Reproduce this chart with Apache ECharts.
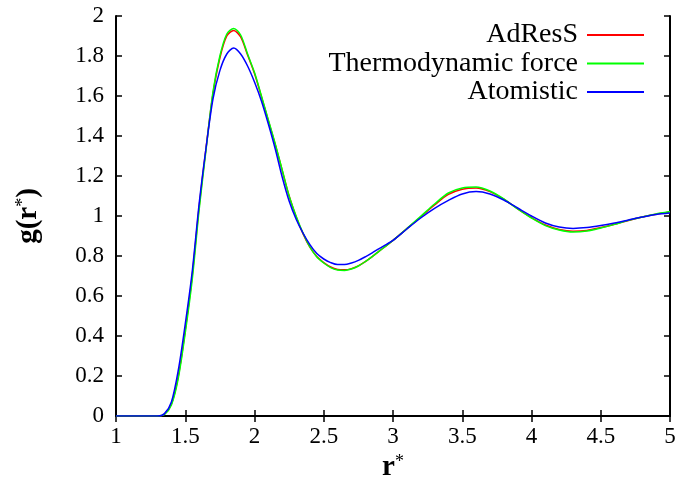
<!DOCTYPE html>
<html>
<head>
<meta charset="utf-8">
<script src="https://cdn.jsdelivr.net/npm/echarts@6/dist/echarts.min.js"></script>
<style>
  html, body { margin: 0; padding: 0; background: #fff; }
  #chart { width: 680px; height: 482px; }
</style>
</head>
<body>
<div id="chart"></div>
<script>
// r* sample points
var rValues = [1.0, 1.25, 1.3, 1.35, 1.4, 1.45, 1.5, 1.55, 1.6, 1.65, 1.7, 1.75, 1.8, 1.85, 1.9, 1.95,
  2.0, 2.05, 2.1, 2.15, 2.2, 2.25, 2.3, 2.35, 2.4, 2.45, 2.5, 2.55, 2.6, 2.65, 2.7, 2.75, 2.8, 2.85, 2.9, 2.95,
  3.0, 3.1, 3.2, 3.3, 3.4, 3.5, 3.6, 3.7, 3.8, 3.9, 4.0, 4.1, 4.2, 4.3, 4.4, 4.5, 4.6, 4.7, 4.8, 4.9, 5.0];

var adress = [0, 0, 0, 0.009, 0.06, 0.2, 0.43, 0.7, 1.045, 1.34, 1.61, 1.79, 1.9, 1.927, 1.895, 1.805,
  1.712, 1.597, 1.477, 1.357, 1.228, 1.1, 0.998, 0.912, 0.844, 0.797, 0.767, 0.745, 0.733, 0.731, 0.737, 0.751, 0.772, 0.797, 0.824, 0.851,
  0.878, 0.937, 0.995, 1.055, 1.108, 1.134, 1.14, 1.122, 1.084, 1.036, 0.992, 0.955, 0.933, 0.924, 0.928, 0.942, 0.959, 0.978, 0.995, 1.009, 1.02];

var thermo = [0, 0, 0, 0.008, 0.055, 0.19, 0.415, 0.68, 1.03, 1.33, 1.62, 1.8, 1.91, 1.938, 1.905, 1.81,
  1.717, 1.6, 1.48, 1.36, 1.23, 1.1, 1.0, 0.915, 0.845, 0.795, 0.765, 0.742, 0.73, 0.728, 0.735, 0.75, 0.772, 0.797, 0.824, 0.851,
  0.878, 0.937, 0.998, 1.06, 1.115, 1.14, 1.145, 1.125, 1.085, 1.035, 0.99, 0.952, 0.93, 0.92, 0.925, 0.94, 0.958, 0.978, 0.995, 1.01, 1.022];

var atomistic = [0, 0, 0, 0.012, 0.07, 0.23, 0.46, 0.72, 1.06, 1.34, 1.585, 1.727, 1.81, 1.84, 1.81, 1.75,
  1.67, 1.575, 1.46, 1.335, 1.195, 1.075, 0.985, 0.915, 0.857, 0.812, 0.785, 0.767, 0.757, 0.757, 0.765, 0.778, 0.796, 0.816, 0.837, 0.857,
  0.878, 0.935, 0.99, 1.038, 1.078, 1.11, 1.122, 1.11, 1.08, 1.04, 1.0, 0.965, 0.945, 0.938, 0.942, 0.952, 0.965, 0.98, 0.995, 1.008, 1.015];

var seriesNames = ['AdResS', 'Thermodynamic force', 'Atomistic'];
var seriesColors = ['#ff0000', '#00ff00', '#0000ff'];

function pairs(vals) {
  return rValues.map(function (r, i) { return [r, vals[i]]; });
}

var font = 'Liberation Serif';
var chart = echarts.init(document.getElementById('chart'));

var baseAxis = {
  axisLine: { show: true, lineStyle: { color: '#000', width: 2 } },
  axisTick: { show: true, inside: true, length: 6, lineStyle: { color: '#000', width: 1.5 } },
  splitLine: { show: false }
};

var nameRich = {
  b: { fontFamily: font, fontSize: 29, fontWeight: 'bold', color: '#000' },
  s: { fontFamily: font, fontSize: 18, color: '#000', verticalAlign: 'top', padding: [0, 0, 12, 0] }
};

chart.setOption({
  animation: false,
  backgroundColor: '#fff',
  grid: { left: 116, right: 10, top: 16, bottom: 66, outerBoundsMode: 'none', containLabel: false },
  legend: {
    orient: 'vertical',
    right: 36,
    top: 21,
    padding: 0,
    align: 'right',
    icon: 'rect',
    itemWidth: 57,
    itemHeight: 2,
    itemGap: 0.5,
    data: seriesNames,
    textStyle: { fontFamily: font, fontSize: 28, lineHeight: 26, color: '#000', padding: [0, 4, 0, 0] }
  },
  xAxis: [
    Object.assign({}, baseAxis, {
      type: 'value', min: 1, max: 5, interval: 0.5, position: 'bottom',
      axisLabel: { fontFamily: font, fontSize: 23, color: '#000', margin: 9 },
      name: '{b|r}{s|*}',
      nameLocation: 'middle',
      nameGap: 36,
      nameTextStyle: { rich: nameRich }
    }),
    Object.assign({}, baseAxis, {
      type: 'value', min: 1, max: 5, interval: 0.5, position: 'top',
      axisLabel: { show: false }
    })
  ],
  yAxis: [
    Object.assign({}, baseAxis, {
      type: 'value', min: 0, max: 2, interval: 0.2, position: 'left',
      axisLabel: {
        fontFamily: font, fontSize: 23, color: '#000', margin: 12,
        formatter: function (v) { return String(Math.round(v * 10) / 10); }
      },
      name: '{b|g(r}{s|*}{b|)}',
      nameLocation: 'middle',
      nameGap: 72,
      nameTextStyle: { rich: nameRich }
    }),
    Object.assign({}, baseAxis, {
      type: 'value', min: 0, max: 2, interval: 0.2, position: 'right',
      axisLabel: { show: false }
    })
  ],
  series: [adress, thermo, atomistic].map(function (vals, i) {
    return {
      name: seriesNames[i],
      type: 'line',
      xAxisIndex: 0,
      yAxisIndex: 0,
      data: pairs(vals),
      smooth: 0.3,
      symbol: 'none',
      color: seriesColors[i],
      lineStyle: { color: seriesColors[i], width: 1.5 }
    };
  })
});
</script>
</body>
</html>
